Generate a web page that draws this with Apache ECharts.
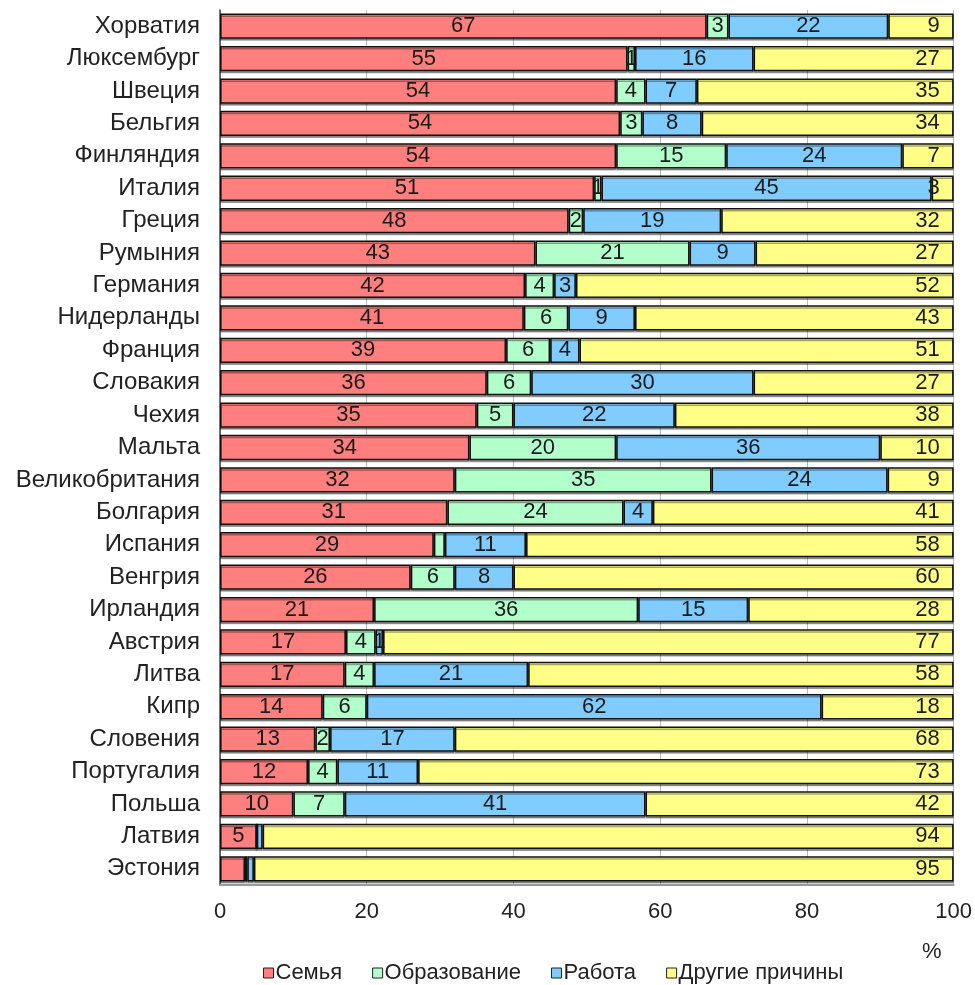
<!DOCTYPE html>
<html>
<head>
<meta charset="utf-8">
<script src="https://cdn.jsdelivr.net/npm/echarts@6/dist/echarts.min.js"></script>
<style>
    html, body { margin: 0; padding: 0; background: #fff; }
    #chart { width: 975px; height: 985px; }
</style>
</head>
<body>
<div id="chart"></div>
<script>
// countries, top to bottom
let countries = ['Хорватия', 'Люксембург', 'Швеция', 'Бельгия', 'Финляндия', 'Италия', 'Греция', 'Румыния',
    'Германия', 'Нидерланды', 'Франция', 'Словакия', 'Чехия', 'Мальта', 'Великобритания', 'Болгария',
    'Испания', 'Венгрия', 'Ирландия', 'Австрия', 'Литва', 'Кипр', 'Словения', 'Португалия', 'Польша',
    'Латвия', 'Эстония']

// non-integer values (no printed label in the source)
let family = [67, 55, 54, 54, 54, 51, 48, 43, 42, 41, 39, 36, 35, 34, 32, 31, 29, 26, 21, 17, 17, 14, 13, 12, 10, 5, 3.4]
let education = [3, 1, 4, 3, 15, 1, 2, 21, 4, 6, 6, 6, 5, 20, 35, 24, 1.5, 6, 36, 4, 4, 6, 2, 4, 7, 0, 0.3]
let work = [22, 16, 7, 8, 24, 45, 19, 9, 3, 9, 4, 30, 22, 36, 24, 4, 11, 8, 15, 1, 21, 62, 17, 11, 41, 0.8, 0.9]
let other = [9, 27, 35, 34, 7, 3, 32, 27, 52, 43, 51, 27, 38, 10, 9, 41, 58, 60, 28, 77, 58, 18, 68, 73, 42, 94, 95]

let seriesNames = ['Семья', 'Образование', 'Работа', 'Другие причины']
let xTicks = [0, 20, 40, 60, 80, 100]

const FONT = '"Liberation Sans", Arial, sans-serif'

// 100% stacked: every bar is scaled to its row total, labels keep the raw value
let totals = countries.map((c, i) => family[i] + education[i] + work[i] + other[i])

function toShares(arr) {
    return arr.map((v, i) => ({ value: v / totals[i] * 100, raw: v }))
}

function labelText(params) {
    let v = params.data.raw
    if (v > 0 && Number.isInteger(v)) return String(v)
    return ''
}

function makeSeries(name, data, color, pos) {
    return {
        name: name,
        type: 'bar',
        stack: 'total',
        data: toShares(data),
        barCategoryGap: '22%',
        itemStyle: {
            color: color,
            borderColor: '#111',
            borderWidth: 1.5,
            shadowColor: 'rgba(0,0,0,0.35)',
            shadowOffsetY: 2
        },
        label: {
            show: true,
            position: pos,
            formatter: labelText,
            color: '#1a1a1a',
            fontFamily: FONT,
            fontSize: 22,
            distance: 14
        },
        emphasis: { disabled: true }
    }
}

let option = {
    animation: false,
    backgroundColor: '#fff',
    textStyle: { fontFamily: FONT },
    grid: {
        left: 220,
        right: 21,
        top: 10,
        bottom: 100
    },
    legend: {
        data: seriesNames,
        top: 957,
        left: 258,
        itemWidth: 10,
        itemHeight: 10,
        itemGap: 30,
        icon: 'rect',
        itemStyle: { borderColor: '#222', borderWidth: 1 },
        textStyle: { fontFamily: FONT, fontSize: 22, color: '#222', padding: [0, 0, 0, -3] }
    },
    graphic: [{
        type: 'text',
        left: 922,
        top: 941,
        style: { text: '%', fontFamily: FONT, fontSize: 22, fill: '#222' }
    }],
    xAxis: {
        type: 'value',
        min: xTicks[0],
        max: xTicks[xTicks.length - 1],
        interval: 20,
        axisLine: { show: true, lineStyle: { color: '#999', width: 2 } },
        axisTick: { show: false },
        axisLabel: { fontFamily: FONT, fontSize: 22, color: '#222', margin: 16 },
        splitLine: { show: true, lineStyle: { color: '#bbb', width: 1 } }
    },
    yAxis: {
        type: 'category',
        data: countries,
        inverse: true,
        axisLine: { show: true, lineStyle: { color: '#444', width: 1.5 } },
        axisTick: { show: false },
        axisLabel: { fontFamily: FONT, fontSize: 24, color: '#222', margin: 20 },
        splitLine: { show: false }
    },
    series: [
        makeSeries(seriesNames[0], family, '#ff7f7f', 'inside'),
        makeSeries(seriesNames[1], education, '#b3ffcc', 'inside'),
        makeSeries(seriesNames[2], work, '#80ccff', 'inside'),
        makeSeries(seriesNames[3], other, '#ffff88', 'insideRight')
    ]
}

const dom = document.getElementById('chart')
const myChart = echarts.init(dom)
myChart.setOption(option, true)
</script>
</body>
</html>
